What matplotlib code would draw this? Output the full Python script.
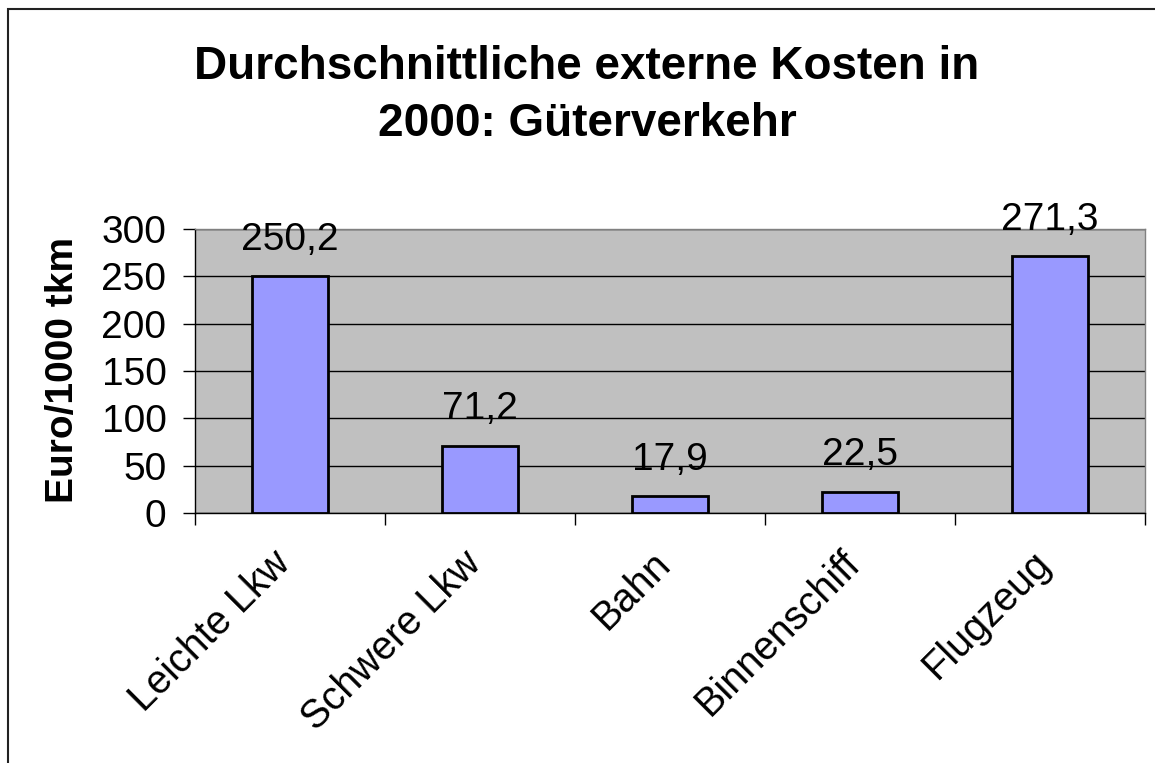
import matplotlib
matplotlib.use("Agg")
import matplotlib.pyplot as plt
from matplotlib.patches import Rectangle

categories = ["Leichte Lkw", "Schwere Lkw", "Bahn", "Binnenschiff", "Flugzeug"]
values = [250.2, 71.2, 17.9, 22.5, 271.3]
value_labels = ["250,2", "71,2", "17,9", "22,5", "271,3"]
yticks = [0, 50, 100, 150, 200, 250, 300]
title_lines = ["Durchschnittliche externe Kosten in", "2000: Güterverkehr"]

plt.rcParams['font.family'] = ['Liberation Sans', 'DejaVu Sans']

W, H = 1155, 763
fig = plt.figure(figsize=(W / 100, H / 100), dpi=100)

# figure border
fig.patches.append(Rectangle((8 / W, -0.1), 1.2, 1 - 9.5 / H + 0.1, transform=fig.transFigure,
                             fill=False, edgecolor='#222222', linewidth=1.5))

ax = fig.add_axes([195 / W, 1 - 513 / H, 950 / W, 284 / H])
ax.set_facecolor('#C0C0C0')
x = list(range(len(categories)))
ax.bar(x, values, width=0.4, color='#9999FF', edgecolor='black', linewidth=2, zorder=3)
ax.set_xlim(-0.5, len(categories) - 0.5)
ax.set_ylim(0, 300)
ax.set_yticks(yticks)
ax.set_yticklabels([str(t) for t in yticks], fontsize=28)
ax.yaxis.grid(True, color='black', linewidth=1, zorder=1)
ax.set_axisbelow(True)

ax.set_xticks([i - 0.5 for i in range(len(categories) + 1)])
ax.set_xticklabels([])
ax.tick_params(axis='x', length=8.6, width=1, direction='out')
ax.tick_params(axis='y', length=8.6, width=1, direction='out', pad=12)

for i, c in enumerate(categories):
    ax.annotate(c, xy=(i, 0), xycoords=('data', 'axes fraction'), xytext=(-4, -32),
                textcoords='offset points', rotation=45, ha='right', va='center',
                rotation_mode='anchor', fontsize=28.5)

for i, (v, lab) in enumerate(zip(values, value_labels)):
    ax.annotate(lab, xy=(i, v), xytext=(0, 19), textcoords='offset points',
                ha='center', va='baseline', fontsize=28, zorder=5, annotation_clip=False)

for s in ['top', 'right']:
    ax.spines[s].set_color('#808080')
    ax.spines[s].set_linewidth(1)
for s in ['left', 'bottom']:
    ax.spines[s].set_color('black')
    ax.spines[s].set_linewidth(1)

fig.text(587 / W, 1 - 79 / H, title_lines[0], ha='center', va='baseline',
         fontsize=33, fontweight='bold')
fig.text(587 / W, 1 - 136 / H, title_lines[1], ha='center', va='baseline',
         fontsize=33, fontweight='bold')
fig.text(63 / W, 1 - 370 / H, "Euro/1000 tkm", rotation=90, ha='center', va='center',
         fontsize=28, fontweight='bold')

fig.savefig("out.png", dpi=100)
